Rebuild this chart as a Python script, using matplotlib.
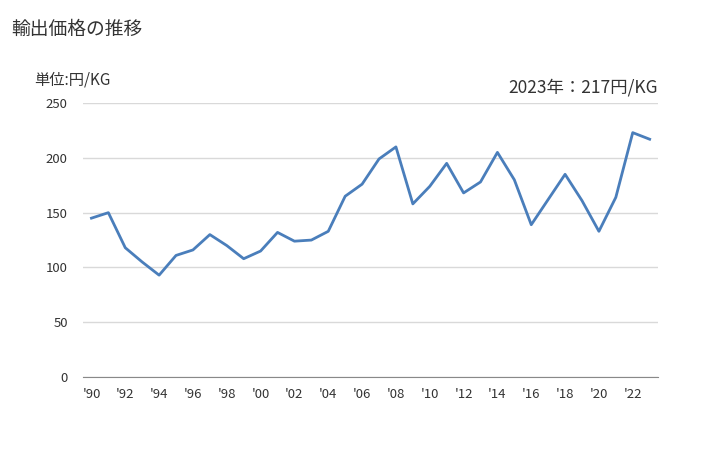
import matplotlib
matplotlib.use('Agg')
import matplotlib.pyplot as plt

plt.rcParams['font.family'] = ['Noto Sans CJK JP', 'DejaVu Sans']

years = list(range(1990, 2024))
price = [145, 150, 118, 105, 93, 111, 116, 130, 120, 108, 115, 132, 124, 125, 133,
         165, 176, 199, 210, 158, 174, 195, 168, 178, 205, 180, 139, 162, 185, 161,
         133, 164, 223, 217]
tick_years = list(range(1990, 2023, 2))
tick_labels = ["'" + str(y)[2:] for y in tick_years]

fig = plt.figure(figsize=(7.28, 4.5), dpi=100)
ax = fig.add_axes([0.114, 0.162, 0.790, 0.609])

ax.plot(years, price, color='#4a7ebb', linewidth=2.0, zorder=3)

ax.set_xlim(1989.5, 2023.5)
ax.set_ylim(0, 250)
ax.set_yticks([0, 50, 100, 150, 200, 250])
ax.set_xticks(tick_years)
ax.set_xticklabels(tick_labels)
ax.tick_params(length=0, labelsize=9.5, colors='#333333')
ax.tick_params(axis='y', pad=11)
ax.tick_params(axis='x', pad=8)
ax.grid(axis='y', color='#d9d9d9', linewidth=1)
ax.set_axisbelow(True)
for s in ['top', 'right', 'left']:
    ax.spines[s].set_visible(False)
ax.spines['bottom'].set_color('#898989')

fig.text(0.016, 0.935, '輸出価格の推移', fontsize=13.5, color='#333333', va='center')
fig.text(0.047, 0.822, '単位:円/KG', fontsize=11, color='#333333', va='center')
fig.text(0.904, 0.805, '2023年：217円/KG', fontsize=12.5, color='#333333',
         ha='right', va='center')

fig.savefig('out.png', dpi=100)
